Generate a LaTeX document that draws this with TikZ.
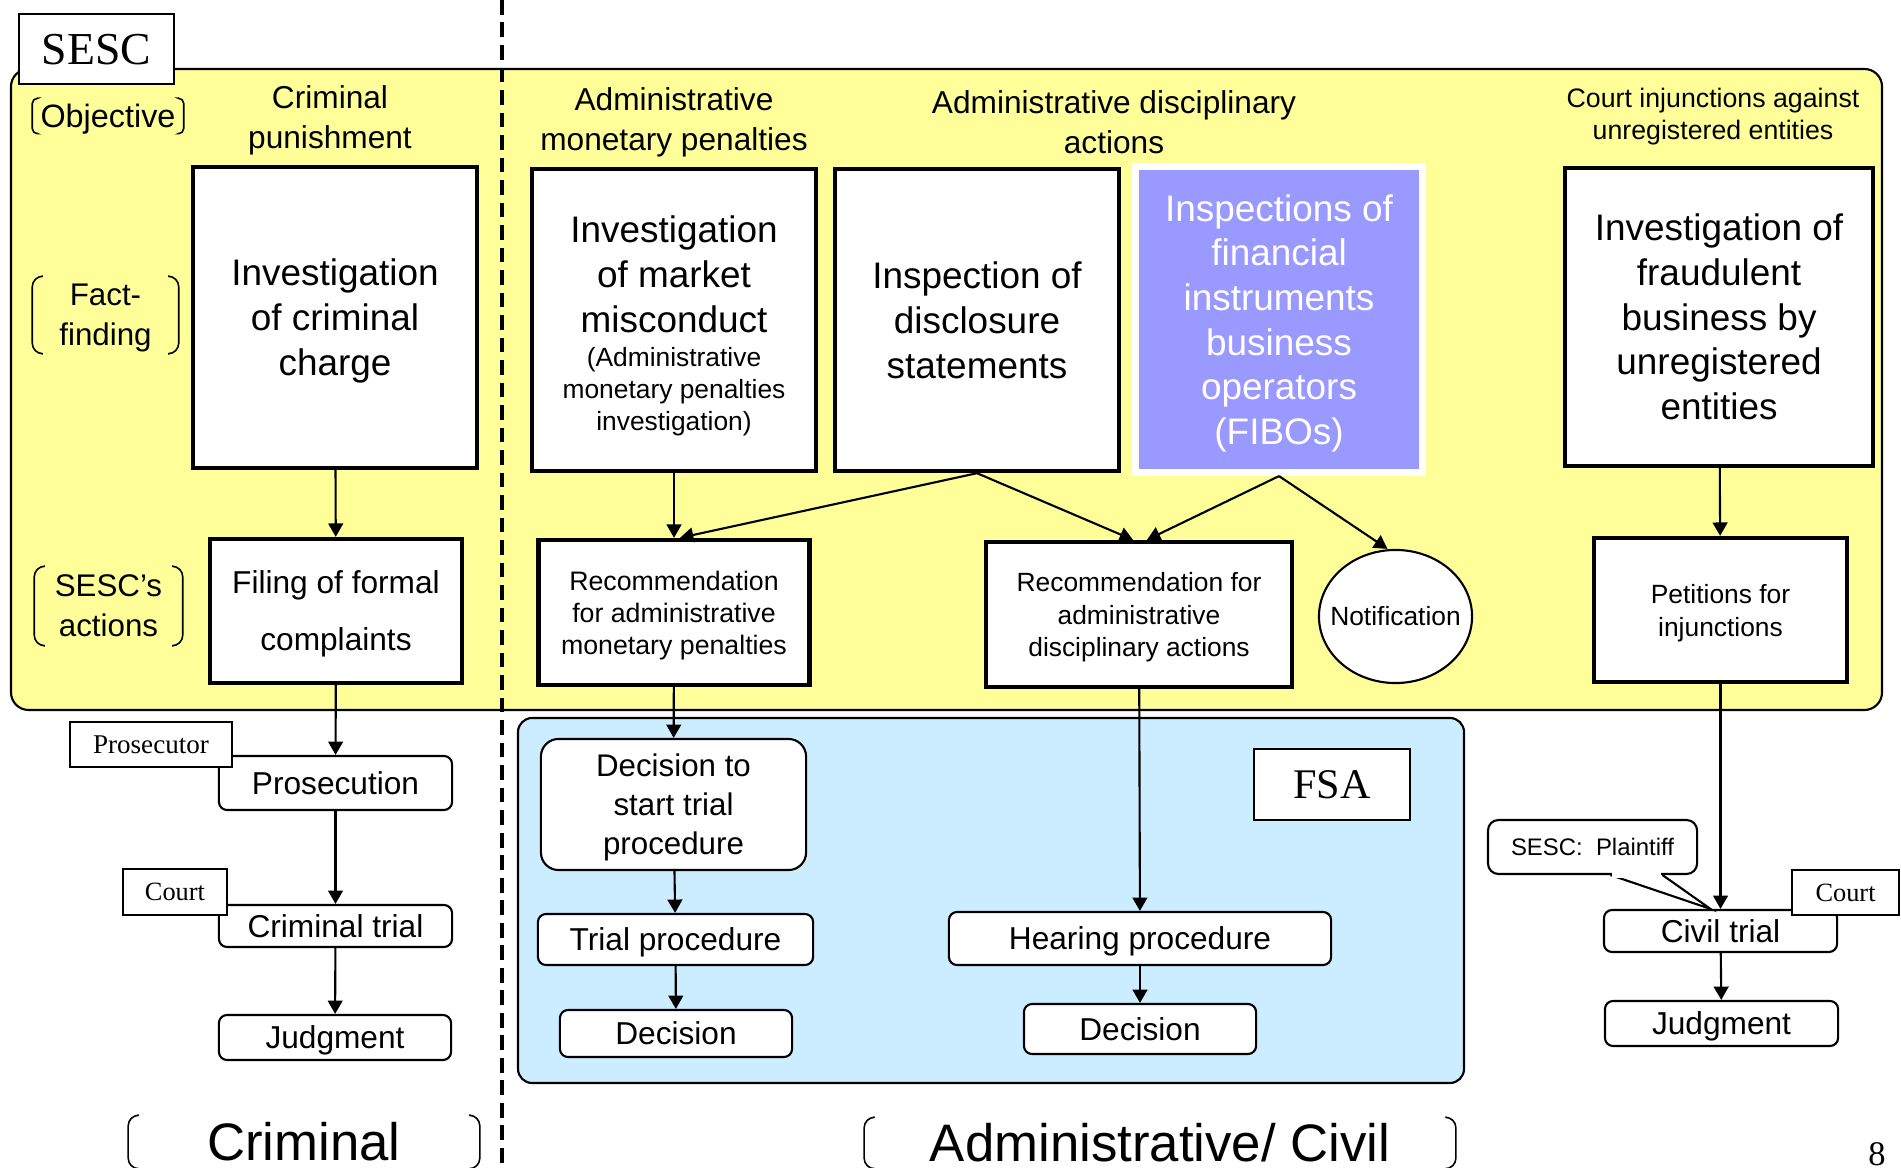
\documentclass[tikz,border=0pt]{standalone}
\usepackage{fontspec}
\setmainfont{Liberation Sans}
\newfontfamily\timesfont{Liberation Serif}
\usetikzlibrary{arrows.meta,calc,shapes.geometric}

\definecolor{sescyellow}{HTML}{FFFF99}
\definecolor{fsablue}{HTML}{CCECFF}
\definecolor{fiboblue}{HTML}{9999FF}

\newcommand{\fsz}[2]{\fontsize{#1}{#2}\selectfont}
\newcommand{\brackets}[3]{%
  \draw[line width=0.45pt,rounded corners=#3] ($(#1.north west)+(#2,0)$) -- (#1.north west) -- (#1.south west) -- ($(#1.south west)+(#2,0)$);
  \draw[line width=0.45pt,rounded corners=#3] ($(#1.north east)+(-#2,0)$) -- (#1.north east) -- (#1.south east) -- ($(#1.south east)+(-#2,0)$);}

\begin{document}
\begin{tikzpicture}[x=0.01cm,y=-0.01cm,
    every edge/.style={draw,line width=0.6pt,-{Triangle[length=3.8pt,width=4.2pt]}}]

  \useasboundingbox (0,0) rectangle (1901,1168);

  \draw[line width=0.6pt,fill=sescyellow,rounded corners=5pt] (11,69) rectangle (1882,710);
  \draw[line width=0.6pt,fill=fsablue,rounded corners=4pt] (518,718) rectangle (1464,1083);
  \draw[line width=1.1pt,dash pattern=on 4.2pt off 2.2pt] (502,0) -- (502,1168);

  \node[draw,line width=0.6pt,fill=white,minimum width=1.55cm,minimum height=0.70cm,text depth=-2.5pt,
        font=\timesfont\fsz{13}{15}] (sesc) at (96.5,49) {SESC};

  \begin{scope}[every node/.style={align=center,inner sep=0pt}]
    \node[font=\fsz{9.2}{11},minimum width=1.5cm,minimum height=0.34cm,text depth=-0.4pt] (obj) at (108,116) {Objective};
    \node[font=\fsz{8.9}{11.4},minimum width=1.45cm,minimum height=0.76cm,text depth=-1.5pt] (ff) at (105.5,315) {Fact-\\finding};
    \node[font=\fsz{8.9}{11.4},minimum width=1.47cm,minimum height=0.78cm] (acts) at (108.5,606) {SESC's\\actions};
    \node[font=\fsz{9}{11.4}] (h1) at (330,120) {Criminal\\punishment};
    \node[font=\fsz{9}{11.4}] (h2) at (674,122) {Administrative\\monetary penalties};
    \node[font=\fsz{9}{11.4}] (h3) at (1114,122) {Administrative disciplinary\\actions};
    \node[font=\fsz{7.6}{9.1}] (h4) at (1713,117) {Court injunctions against\\unregistered entities};
    \node[font=\fsz{15}{18},minimum width=3.5cm,minimum height=0.52cm] (crim) at (304,1142) {Criminal};
    \node[font=\fsz{15}{18},minimum width=5.9cm,minimum height=0.50cm] (admciv) at (1160,1143) {Administrative/ Civil};
    \node[font=\timesfont\fsz{9.8}{11},anchor=base] (pg) at (1877,1165) {8};
  \end{scope}

  \brackets{obj}{5}{1.5pt}
  \brackets{ff}{9}{3pt}
  \brackets{acts}{9}{3pt}
  \brackets{crim}{9}{3pt}
  \brackets{admciv}{9}{3pt}

  \begin{scope}[every node/.style={draw,line width=1.2pt,fill=white,inner sep=0pt,align=center}]
    \node[minimum width=2.84cm,minimum height=3.01cm,font=\fsz{10.5}{12.8},text depth=0pt] (1) at (335,317.5) {Investigation\\of criminal\\charge};
    \node[minimum width=2.84cm,minimum height=3.02cm] (3) at (674,320) {};
    \node[minimum width=2.84cm,minimum height=3.02cm,font=\fsz{10.5}{12.8},text depth=0pt] (4) at (977,320) {Inspection of\\disclosure\\statements};
    \node[draw=white,line width=2pt,fill=fiboblue,text=white,minimum width=2.87cm,minimum height=3.06cm,
          font=\fsz{10.5}{12.7},text depth=-1.2pt] (5) at (1279,319.5) {Inspections of\\financial\\instruments\\business\\operators\\(FIBOs)};
    \node[minimum width=3.08cm,minimum height=2.98cm,font=\fsz{10.5}{12.7}] (6) at (1719,317) {Investigation of\\fraudulent\\business by\\unregistered\\entities};
    \node[minimum width=2.52cm,minimum height=1.44cm,font=\fsz{9}{16.2},text depth=-0.4pt] (2) at (336,611) {Filing of formal\\complaints};
    \node[minimum width=2.71cm,minimum height=1.45cm,font=\fsz{7.6}{9.1},text depth=-1.8pt] (7) at (674,612.5) {Recommendation\\for administrative\\monetary penalties};
    \node[minimum width=3.06cm,minimum height=1.45cm,font=\fsz{7.5}{9.2},text depth=-1.2pt] (8) at (1139,614.5) {Recommendation for\\administrative\\disciplinary actions};
    \node[minimum width=2.53cm,minimum height=1.44cm,font=\fsz{7.5}{9.4},text depth=-0.7pt] (10) at (1720.5,610) {Petitions for\\injunctions};
  \end{scope}

  \node[align=center,inner sep=0pt,font=\fsz{10.5}{12.8}] (3a) at (674,274) {Investigation\\of market\\misconduct};
  \node[align=center,inner sep=0pt,font=\fsz{7.5}{9.1}] (3b) at (674,392) {(Administrative\\monetary penalties\\investigation)};
  \node[draw,ellipse,line width=0.6pt,fill=white,minimum width=1.53cm,minimum height=1.33cm,inner sep=0pt] (9) at (1395.5,616.5) {};
  \node[inner sep=0pt,font=\fsz{7.5}{9}] (9a) at (9) {Notification};

  \begin{scope}[every node/.style={draw,line width=0.6pt,fill=white,rounded corners=2.3pt,inner sep=0pt,
                                    align=center,font=\fsz{9}{11}}]
    \node[minimum width=2.33cm,minimum height=0.54cm] (11) at (335.5,783) {Prosecution};
    \node[minimum width=2.33cm,minimum height=0.42cm] (13) at (335.5,926) {Criminal trial};
    \node[minimum width=2.32cm,minimum height=0.45cm,text depth=-0.4pt] (15) at (335,1037.5) {Judgment};
    \node[rounded corners=5pt,minimum width=2.65cm,minimum height=1.31cm,font=\fsz{8.9}{11.1},text depth=-0.9pt] (16) at (673.5,804.5) {Decision to\\start trial\\procedure};
    \node[minimum width=2.75cm,minimum height=0.51cm,text depth=-0.9pt] (17) at (675.5,939.5) {Trial procedure};
    \node[minimum width=2.32cm,minimum height=0.47cm] (18) at (676,1033.5) {Decision};
    \node[minimum width=3.82cm,minimum height=0.53cm,text depth=-0.9pt] (19) at (1140,938.5) {Hearing procedure};
    \node[minimum width=2.32cm,minimum height=0.50cm] (20) at (1140,1029) {Decision};
    \node[minimum width=2.33cm,minimum height=0.42cm] (23) at (1720.5,931) {Civil trial};
    \node[minimum width=2.33cm,minimum height=0.45cm,text depth=-0.4pt] (25) at (1721.5,1023.5) {Judgment};
    \node[rounded corners=3pt,minimum width=2.09cm,minimum height=0.54cm,font=\fsz{6.8}{8}] (22) at (1592.5,847) {SESC:\ \ Plaintiff};
  \end{scope}

  \begin{scope}[every node/.style={draw,line width=0.6pt,fill=white,inner sep=0pt,font=\timesfont\fsz{7.5}{9}}]
    \node[minimum width=1.62cm,minimum height=0.45cm,font=\timesfont\fsz{7.7}{9}] (12) at (151,744.5) {Prosecutor};
    \node[minimum width=1.04cm,minimum height=0.46cm] (14) at (175,892) {Court};
    \node[minimum width=1.07cm,minimum height=0.45cm] (24) at (1845.5,892.5) {Court};
    \node[line width=0.8pt,minimum width=1.56cm,minimum height=0.71cm,text depth=-1.8pt,font=\timesfont\fsz{12}{14}] (21) at (1332,784.5) {FSA};
  \end{scope}

  \path (1) edge (2);
  \path (2) edge (11);
  \path (11) edge (13);
  \path (13) edge (15);
  \path (3) edge (7);
  \path (4.south) edge ($(7.north)+(6,0)$);
  \path (4.south) edge ($(8.north)+(-6,0)$);
  \path (5.south) edge ($(8.north)+(8,0)$);
  \path (5.south) edge ($(9.north)+(-8,0)$);
  \path (7) edge (16);
  \path (16) edge (17);
  \path (17) edge (18);
  \path (8) edge (19);
  \path (19) edge (20);
  \path (6) edge (10);
  \path (10) edge (23);
  \path (23) edge (25);

  \draw[line width=0.6pt,fill=white] ($(22.south)+(18,0)$) -- ($(23.north)+(-10,0)$) -- ($(22.south)+(70,0)$);
  \draw[white,line width=1.5pt] ($(22.south)+(19.5,0)$) -- ($(22.south)+(68.5,0)$);

\end{tikzpicture}
\end{document}
